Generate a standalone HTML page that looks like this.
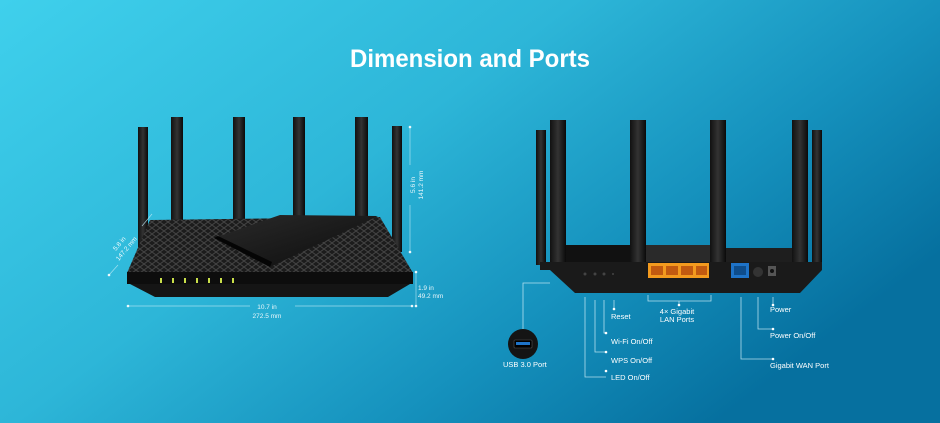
<!DOCTYPE html>
<html><head><meta charset="utf-8"><style>
html,body{margin:0;padding:0;width:940px;height:423px;overflow:hidden}
svg{display:block}
text{font-family:"Liberation Sans",sans-serif;fill:#fff}
</style></head><body>
<svg width="940" height="423" viewBox="0 0 940 423" xmlns="http://www.w3.org/2000/svg">
<defs>
<linearGradient id="bg" x1="0" y1="0" x2="1" y2="0.6">
<stop offset="0" stop-color="#3fd0ec"/>
<stop offset="0.45" stop-color="#2db6d8"/>
<stop offset="0.75" stop-color="#1591bd"/>
<stop offset="1" stop-color="#06709f"/>
</linearGradient>
<linearGradient id="ant" x1="0" x2="1">
<stop offset="0" stop-color="#111"/><stop offset="0.5" stop-color="#333"/><stop offset="1" stop-color="#0a0a0a"/>
</linearGradient>
<linearGradient id="plate" x1="0" y1="0" x2="1" y2="1">
<stop offset="0" stop-color="#2a2a2a"/><stop offset="1" stop-color="#0c0c0c"/>
</linearGradient>
<pattern id="mesh" width="8" height="6" patternUnits="userSpaceOnUse">
<rect width="8" height="6" fill="#1c1c1c"/>
<path d="M0 0L8 6M8 0L0 6" stroke="#444" stroke-width="1"/>
</pattern>
</defs>
<rect width="940" height="423" fill="url(#bg)"/>
<text x="470" y="67" font-size="25" font-weight="bold" text-anchor="middle" textLength="240" lengthAdjust="spacingAndGlyphs">Dimension and Ports</text>

<!-- LEFT ROUTER -->
<g fill="url(#ant)">
<rect x="138" y="127" width="10" height="125"/>
<rect x="171" y="117" width="12" height="105"/>
<rect x="233" y="117" width="12" height="105"/>
<rect x="293" y="117" width="12" height="105"/>
<rect x="355" y="117" width="13" height="105"/>
<rect x="392" y="126" width="10" height="126"/>
</g>
<polygon points="150,220 380,217 413,273 127,273" fill="url(#mesh)"/>
<polygon points="214,238 280,215 378,216 270,267" fill="url(#plate)"/>
<polygon points="214,238 270,267 272,262 218,236" fill="#050505"/>
<rect x="127" y="272" width="286" height="12" fill="#0d0d0d"/>
<polygon points="130,284 410,284 388,297 155,297" fill="#151515"/>
<g fill="#c9e04a">
<rect x="160" y="278" width="2" height="5"/><rect x="172" y="278" width="2" height="5"/>
<rect x="184" y="278" width="2" height="5"/><rect x="196" y="278" width="2" height="5"/>
<rect x="208" y="278" width="2" height="5"/><rect x="220" y="278" width="2" height="5"/>
<rect x="232" y="278" width="2" height="5"/>
</g>
<g stroke="#bfeaf5" stroke-width="0.7" fill="none" opacity="0.8">
<line x1="410" y1="127" x2="410" y2="165"/><line x1="410" y1="205" x2="410" y2="252"/>
<line x1="416" y1="272" x2="416" y2="306"/>
<line x1="128" y1="306" x2="250" y2="306"/><line x1="295" y1="306" x2="412" y2="306"/>
<line x1="109" y1="275" x2="118" y2="265"/><line x1="142" y1="226" x2="152" y2="214"/>
</g>
<g fill="#fff" opacity="0.9"><circle cx="410" cy="127" r="1.3"/><circle cx="410" cy="252" r="1.3"/><circle cx="416" cy="272" r="1.3"/><circle cx="416" cy="306" r="1.3"/><circle cx="128" cy="306" r="1.3"/><circle cx="412" cy="306" r="1.3"/><circle cx="109" cy="275" r="1.3"/></g>
<g font-size="6.5" opacity="0.9">
<text transform="translate(415,185) rotate(-90)" text-anchor="middle">5.6 in</text>
<text transform="translate(423,185) rotate(-90)" text-anchor="middle">141.2 mm</text>
<text transform="translate(121,245) rotate(-50)" text-anchor="middle">5.8 in</text>
<text transform="translate(128,250) rotate(-50)" text-anchor="middle">147.2 mm</text>
<text x="418" y="290">1.9 in</text><text x="418" y="298">49.2 mm</text>
<text x="267" y="309" text-anchor="middle">10.7 in</text>
<text x="267" y="318" text-anchor="middle">272.5 mm</text>
</g>

<!-- RIGHT ROUTER -->
<g fill="url(#ant)">
<rect x="536" y="130" width="10" height="135"/>
<rect x="550" y="120" width="16" height="150"/>
<rect x="630" y="120" width="16" height="155"/>
<rect x="710" y="120" width="16" height="155"/>
<rect x="792" y="120" width="16" height="150"/>
<rect x="812" y="130" width="10" height="135"/>
</g>
<rect x="566" y="245" width="64" height="20" fill="#111"/>
<rect x="646" y="245" width="64" height="20" fill="#2a2a2a"/>
<rect x="726" y="248" width="66" height="17" fill="#1e1e1e"/>
<polygon points="540,262 822,262 822,270 800,293 575,293 550,270 540,270" fill="#1a1a1a"/>
<rect x="648" y="263" width="61" height="15" fill="#f39a1e"/>
<g fill="#c25a10"><rect x="651" y="266" width="12" height="9"/><rect x="666" y="266" width="12" height="9"/><rect x="681" y="266" width="12" height="9"/><rect x="696" y="266" width="11" height="9"/></g>
<rect x="731" y="263" width="18" height="15" fill="#1e73c8"/>
<rect x="734" y="266" width="12" height="9" fill="#0e4d8c"/>
<circle cx="758" cy="272" r="5" fill="#333"/>
<rect x="768" y="266" width="8" height="10" fill="#555"/><circle cx="772" cy="271" r="2" fill="#111"/>
<g fill="#444"><circle cx="585" cy="274" r="1.5"/><circle cx="595" cy="274" r="1.5"/><circle cx="604" cy="274" r="1.5"/><circle cx="613" cy="274" r="1"/></g>

<!-- connectors -->
<g stroke="#cfeef8" stroke-width="0.8" fill="none" opacity="0.85">
<polyline points="523,330 523,283 550,283"/>
<polyline points="585,297 585,377 606,377"/>
<polyline points="595,300 595,352 606,352"/>
<polyline points="604,300 604,333 606,333"/>
<line x1="614" y1="300" x2="614" y2="309"/>
<polyline points="648,295 648,301 711,301 711,295"/>
<line x1="679" y1="301" x2="679" y2="305"/>
<polyline points="741,297 741,359 773,359"/>
<polyline points="758,297 758,329 773,329"/>
<line x1="773" y1="297" x2="773" y2="305"/>
</g>
<g fill="#fff"><circle cx="614" cy="309" r="1.3"/><circle cx="606" cy="333" r="1.3"/><circle cx="606" cy="352" r="1.3"/><circle cx="606" cy="371" r="1.3"/><circle cx="679" cy="305" r="1.3"/><circle cx="773" cy="305" r="1.3"/><circle cx="773" cy="329" r="1.3"/><circle cx="773" cy="359" r="1.3"/></g>
<circle cx="523" cy="344" r="15" fill="#141414"/>
<rect x="514" y="340" width="18" height="8" rx="1" fill="#000" stroke="#555" stroke-width="0.6"/>
<rect x="516" y="342" width="14" height="3" fill="#1e73c8"/>
<g font-size="7.5">
<text x="611" y="319">Reset</text>
<text x="611" y="344">Wi-Fi On/Off</text>
<text x="611" y="363">WPS On/Off</text>
<text x="611" y="380">LED On/Off</text>
<text x="677" y="314" text-anchor="middle">4× Gigabit</text>
<text x="677" y="322" text-anchor="middle">LAN Ports</text>
<text x="770" y="312">Power</text>
<text x="770" y="338">Power On/Off</text>
<text x="770" y="368">Gigabit WAN Port</text>
<text x="503" y="367">USB 3.0 Port</text>
</g>
</svg>
</body></html>
